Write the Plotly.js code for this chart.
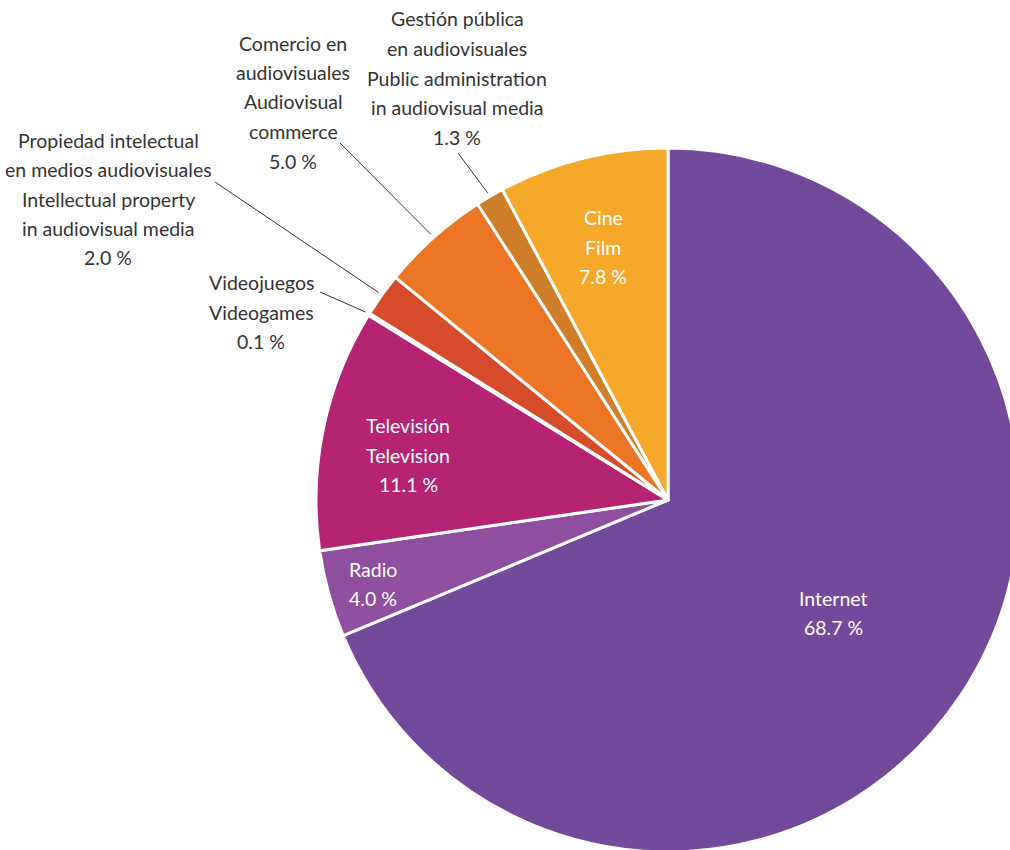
<!DOCTYPE html>
<html>
<head>
<meta charset="utf-8">
<script src="https://cdn.plot.ly/plotly-3.0.1.min.js"></script>
<style>
html,body{margin:0;padding:0;overflow:hidden;background:#fff;width:1010px;height:850px;}
#chart{width:1100px;height:900px;}
</style>
</head>
<body>
<div id="chart"></div>
<script>
// ---- data ----
var categories = ["Internet","Radio","Televisión","Videojuegos","Propiedad intelectual","Comercio en audiovisuales","Gestión pública en audiovisuales","Cine"];
var labelText = [
  "Internet",
  "Radio",
  "Televisión<br>Television",
  "Videojuegos<br>Videogames",
  "Propiedad intelectual<br>en medios audiovisuales<br>Intellectual property<br>in audiovisual media",
  "Comercio en<br>audiovisuales<br>Audiovisual<br>commerce",
  "Gestión pública<br>en audiovisuales<br>Public administration<br>in audiovisual media",
  "Cine<br>Film"
];
var values = [68.7, 4.0, 11.1, 0.1, 2.0, 5.0, 1.3, 7.8];
var colors = ["#72499b","#8e4f9f","#b52373","#d24a2b","#d44c2b","#ec7626","#cf7f2a","#f6a82b"];

// ---- layout constants (pixels) ----
var W = 1100, H = 900;
var CX = 668, CY = 500, R = 352;
var LINE_GAP = 29.5;
// label block centre [x, y], inside flag, leader-line start (for outside labels)
var labelPos = [
  {x:833, y:613, inside:true},
  {x:373, y:584, inside:true},
  {x:408, y:455, inside:true},
  {x:261, y:312, inside:false, lx:320, ly:292},
  {x:108, y:199, inside:false, lx:215, ly:182},
  {x:293, y:102, inside:false, lx:340, ly:143},
  {x:457, y:78,  inside:false, lx:458, ly:153},
  {x:603, y:247, inside:true}
];

function px(x){ return x / W; }
function py(y){ return 1 - y / H; }

var fontFam = "Lato, sans-serif";

var total = values.reduce(function(a,b){return a+b;},0);
var annotations = [], shapes = [];
var cum = 0;
for (var i = 0; i < values.length; i++) {
  var mid = (cum + values[i] / 2) / total;
  cum += values[i];
  var p = labelPos[i];
  var lines = labelText[i].split("<br>");
  lines.push(values[i].toFixed(1) + " %");
  var n = lines.length;
  for (var k = 0; k < n; k++) {
    var yy = p.y + (k - (n - 1) / 2) * LINE_GAP;
    annotations.push({
      xref:'paper', yref:'paper', x:px(p.x), y:py(yy),
      xanchor:'center', yanchor:'middle', align:'center', showarrow:false,
      text: lines[k],
      font:{family:fontFam, size:19.5, color: p.inside ? '#ffffff' : '#333333'}
    });
  }
  if (!p.inside) {
    var ang = mid * 2 * Math.PI;
    var ex = CX + Math.sin(ang) * R * 1.012;
    var ey = CY - Math.cos(ang) * R * 1.012;
    shapes.push({type:'line', xref:'paper', yref:'paper',
      x0:px(p.lx), y0:py(p.ly), x1:px(ex), y1:py(ey),
      line:{color:'#333333', width:1}});
  }
}

var trace = {
  type:'pie',
  labels: categories,
  values: values,
  sort:false,
  direction:'clockwise',
  rotation:0,
  textinfo:'none',
  hoverinfo:'label+percent',
  marker:{colors:colors, line:{color:'#ffffff', width:3}},
  domain:{x:[px(CX-R), px(CX+R)], y:[py(CY+R), py(CY-R)]}
};

var layout = {
  width:W, height:H,
  margin:{l:0,r:0,t:0,b:0},
  showlegend:false,
  paper_bgcolor:'#ffffff',
  annotations:annotations,
  shapes:shapes
};

Plotly.newPlot('chart', [trace], layout, {displayModeBar:false, staticPlot:true});
</script>
</body>
</html>
